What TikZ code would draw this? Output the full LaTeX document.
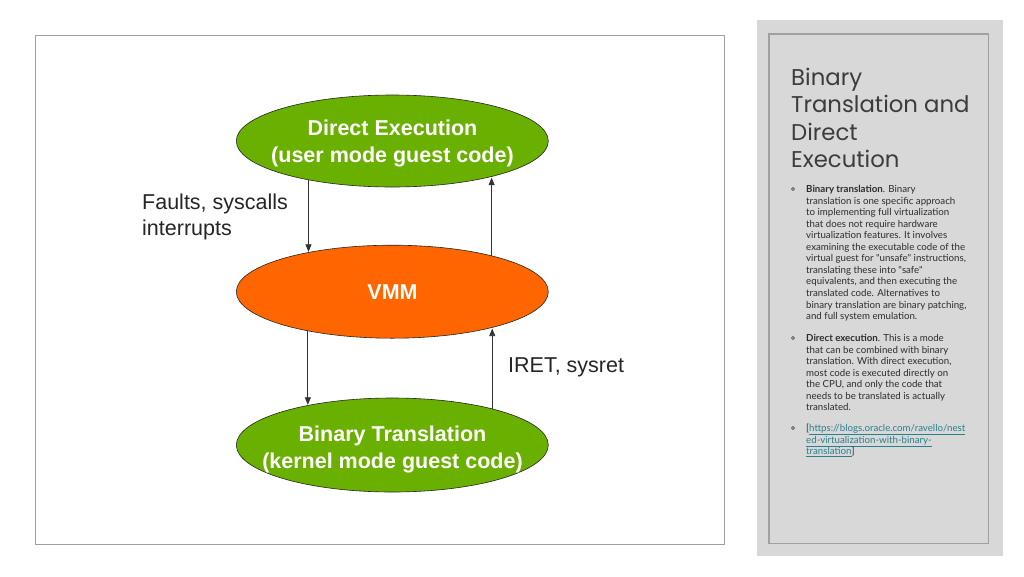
\documentclass[tikz,border=0pt]{standalone}
\usepackage{fontspec}
\setmainfont{Liberation Sans}
\newfontfamily\titlefont{Poppins}
\newfontfamily\bodyfont{Lato}
\usetikzlibrary{shapes.geometric,arrows.meta}
\definecolor{leaf}{RGB}{106,176,0}
\definecolor{vmmorange}{RGB}{255,102,0}
\definecolor{panelgray}{RGB}{216,216,216}
\definecolor{panelline}{RGB}{160,160,160}
\definecolor{framegray}{RGB}{160,160,160}
\definecolor{titlegray}{RGB}{60,60,60}
\definecolor{bodygray}{RGB}{45,45,45}
\definecolor{linkteal}{RGB}{40,128,140}
\tikzset{
  oval/.style={ellipse, draw=black!85, line width=0.6pt, inner sep=0pt,
    minimum width=312pt, minimum height=92pt},
  ovaltext/.style={anchor=base, inner sep=0pt, text=white,
    font=\fontsize{21.5}{24}\selectfont\bfseries},
  conn/.style={draw=black!80, line width=0.75pt, -{Triangle[length=7.5pt,width=6pt]}},
  sidelabel/.style={anchor=base west, inner sep=0pt, text=black!85,
    font=\fontsize{21.5}{24}\selectfont},
  titleline/.style={anchor=base west, inner sep=0pt, text=titlegray,
    font=\titlefont\fontsize{22.8}{27}\selectfont},
  bodyline/.style={anchor=base west, inner sep=0pt, text=bodygray,
    font=\bodyfont\fontsize{9.7}{11}\selectfont},
  bulletmark/.style={circle, draw=bodygray, line width=0.5pt, inner sep=0pt,
    minimum size=3pt}
}
\begin{document}
\begin{tikzpicture}[x=1pt,y=-1pt]
\useasboundingbox (0,0) rectangle (1024,576);
\fill[white] (0,0) rectangle (1024,576);
% left frame
\draw[framegray, line width=0.9pt] (35,35) rectangle (724,544);
% right panel
\fill[panelgray] (757,19.5) rectangle (1002.5,555.5);
\draw[panelline, line width=1.2pt] (769,34) rectangle (988.5,543.5);

% ellipses
\node[oval, fill=leaf] (top) at (392.3,141) {};
\node[oval, fill=vmmorange, minimum height=93pt] (vmm) at (392.3,291.7) {};
\node[oval, fill=leaf, minimum height=94pt] (bot) at (392.3,445) {};

\node[ovaltext] (topa) at (392.5,135) {Direct Execution};
\node[ovaltext] (topb) at (392.5,162) {(user mode guest code)};
\node[ovaltext] (vmmt) at (392.5,299.5) {VMM};
\node[ovaltext] (bota) at (392.5,441) {Binary Translation};
\node[ovaltext] (botb) at (392.5,468) {(kernel mode guest code)};

% connectors (kept vertical)
\draw[conn] (top.205.1) -- (top.205.1 |- vmm.154.6);
\draw[conn] (vmm.20.3) -- (vmm.20.3 |- top.339.9);
\draw[conn] (vmm.205.4) -- (vmm.205.4 |- bot.154.4);
\draw[conn] (bot.20.5) -- (bot.20.5 |- vmm.339.7);

% side labels
\node[sidelabel] (fa) at (142,209.5) {Faults, syscalls};
\node[sidelabel] (fb) at (142,235.5) {interrupts};
\node[sidelabel] (ir) at (508,372.3) {IRET, sysret};

% title
\node[titleline] (t1) at (791,85) {Binary};
\node[titleline] (t2) at (791,112.5) {Translation and};
\node[titleline] (t3) at (791,140) {Direct};
\node[titleline] (t4) at (791,167.5) {Execution};

% bullets
\node[bulletmark] (b1) at (793,189) {};
\node[bulletmark] (b2) at (793,338) {};
\node[bulletmark] (b3) at (793,428) {};

\foreach \t [count=\i from 0] in {
 {\textbf{Binary translation}. Binary},
 {translation is one specific approach},
 {to implementing full virtualization},
 {that does not require hardware},
 {virtualization features. It involves},
 {examining the executable code of the},
 {virtual guest for "unsafe" instructions,},
 {translating these into "safe"},
 {equivalents, and then executing the},
 {translated code. Alternatives to},
 {binary translation are binary patching,},
 {and full system emulation.}}
 \node[bodyline] (p1l\i) at (806,192.5+11.55*\i) {\t};

\foreach \t [count=\i from 0] in {
 {\textbf{Direct execution}. This is a mode},
 {that can be combined with binary},
 {translation. With direct execution,},
 {most code is executed directly on},
 {the CPU, and only the code that},
 {needs to be translated is actually},
 {translated.}}
 \node[bodyline] (p2l\i) at (806,341.5+11.5*\i) {\t};

\node[bodyline] (p3l0) at (806,431.5) {[\textcolor{linkteal}{\underline{https://blogs.oracle.com/ravello/nest}}};
\node[bodyline] (p3l1) at (806,443) {\textcolor{linkteal}{\underline{ed-virtualization-with-binary-}}};
\node[bodyline] (p3l2) at (806,454.5) {\textcolor{linkteal}{\underline{translation}}]};
\end{tikzpicture}
\end{document}
